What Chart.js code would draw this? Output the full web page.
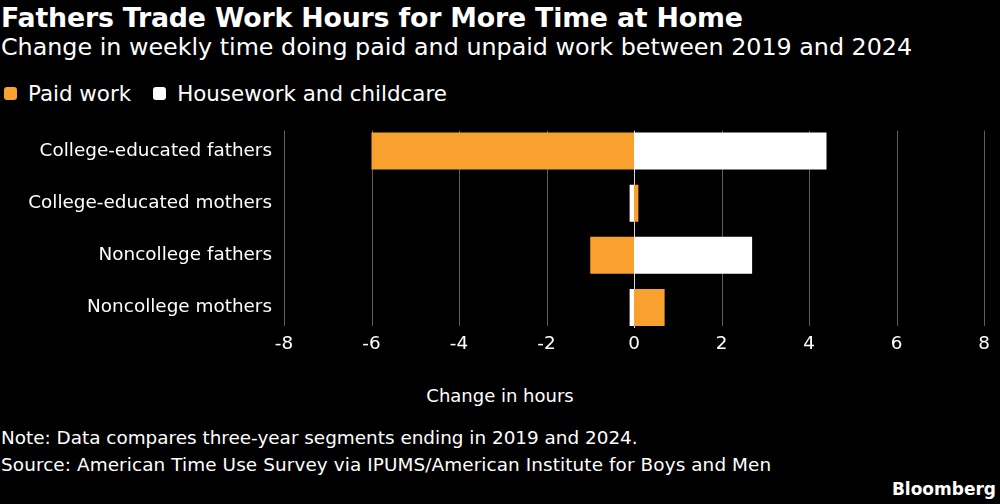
<!DOCTYPE html>
<html>
<head>
<meta charset="utf-8">
<script src="https://cdn.jsdelivr.net/npm/chart.js@4.4.1/dist/chart.umd.min.js"></script>
<style>
  html, body { margin: 0; padding: 0; background: #000; }
  body { width: 1000px; height: 504px; position: relative; overflow: hidden; font-family: "DejaVu Sans", sans-serif; color: #fff; }
  .t { position: absolute; white-space: nowrap; }
  #title { left: 1px; top: 2px; font-size: 26.8px; font-weight: bold; letter-spacing: -0.2px; }
  #subtitle { left: 1px; top: 33px; font-size: 23.8px; }
  #legend { left: 4px; top: 81px; font-size: 21.4px; display: flex; align-items: center; }
  .sw { display: inline-block; width: 13px; height: 13px; border-radius: 3px; margin-right: 11px; }
  .li { display: flex; align-items: center; margin-right: 22px; }
  #axtitle { left: 0; width: 1000px; text-align: center; top: 385px; font-size: 18px; }
  #note { left: 1px; top: 427px; font-size: 18.4px; }
  #source { left: 1px; top: 454px; font-size: 18.4px; letter-spacing: 0.1px; }
  #brand { right: 4px; top: 479px; font-size: 17px; font-weight: bold; }
  #wrap { position: absolute; left: 0; top: 102px; width: 1000px; height: 269px; }
</style>
</head>
<body>
<div class="t" id="title">Fathers Trade Work Hours for More Time at Home</div>
<div class="t" id="subtitle">Change in weekly time doing paid and unpaid work between 2019 and 2024</div>
<div class="t" id="legend">
  <span class="li"><span class="sw" style="background:#f8a12f"></span>Paid work</span>
  <span class="li"><span class="sw" style="background:#ffffff"></span>Housework and childcare</span>
</div>
<div id="wrap"><canvas id="c" width="1000" height="269"></canvas></div>
<div class="t" id="axtitle">Change in hours</div>
<div class="t" id="note">Note: Data compares three-year segments ending in 2019 and 2024.</div>
<div class="t" id="source">Source: American Time Use Survey via IPUMS/American Institute for Boys and Men</div>
<div class="t" id="brand">Bloomberg</div>
<script>
const categories = ["College-educated fathers", "College-educated mothers", "Noncollege fathers", "Noncollege mothers"];
const paidWork = [-6.0, 0.1, -1.0, 0.7];
const housework = [4.4, -0.1, 2.7, -0.1];
const xTicks = [-8, -6, -4, -2, 0, 2, 4, 6, 8];

const FONT = '"DejaVu Sans", sans-serif';

const gridPlugin = {
  id: 'clippedGrid',
  beforeDatasetsDraw(chart) {
    const ctx = chart.ctx;
    const x = chart.scales.x;
    const meta0 = chart.getDatasetMeta(0);
    const first = meta0.data[0], last = meta0.data[meta0.data.length - 1];
    const top = first.y - first.height / 2;
    const bottom = last.y + last.height / 2;
    ctx.save();
    xTicks.forEach(v => {
      const px = Math.round(x.getPixelForValue(v)) + 0.5;
      ctx.beginPath();
      ctx.strokeStyle = v === 0 ? '#d8d8d8' : '#5e5e5e';
      ctx.lineWidth = 1;
      ctx.moveTo(px, v === 0 ? top - 2 : top - 2);
      ctx.lineTo(px, v === 0 ? bottom + 2 : bottom);
      ctx.stroke();
    });
    ctx.restore();
  }
};

new Chart(document.getElementById('c'), {
  type: 'bar',
  data: {
    labels: categories,
    datasets: [
      { label: 'Paid work', data: paidWork, backgroundColor: '#f8a12f', borderWidth: 0 },
      { label: 'Housework and childcare', data: housework, backgroundColor: '#ffffff', borderWidth: 0 }
    ]
  },
  options: {
    indexAxis: 'y',
    responsive: false,
    animation: false,
    layout: { padding: { top: 6.5, right: 16, left: 0, bottom: 0 } },
    plugins: { legend: { display: false }, tooltip: { enabled: false } },
    datasets: { bar: { categoryPercentage: 1.0, barPercentage: 0.71 } },
    scales: {
      x: {
        type: 'linear', stacked: true, min: -8, max: 8,
        afterBuildTicks(s) { s.ticks = xTicks.map(v => ({ value: v })); },
        afterFit(s) { s.height = 37.5; },
        grid: { display: false, drawTicks: false },
        border: { display: false },
        ticks: { color: '#ffffff', font: { family: FONT, size: 18.4 }, padding: 0 }
      },
      y: {
        stacked: true,
        afterFit(s) { s.width = 284; },
        grid: { display: false, drawTicks: false },
        border: { display: false },
        ticks: { color: '#ffffff', font: { family: FONT, size: 18.4 }, padding: 12 }
      }
    }
  },
  plugins: [gridPlugin]
});
</script>
</body>
</html>
